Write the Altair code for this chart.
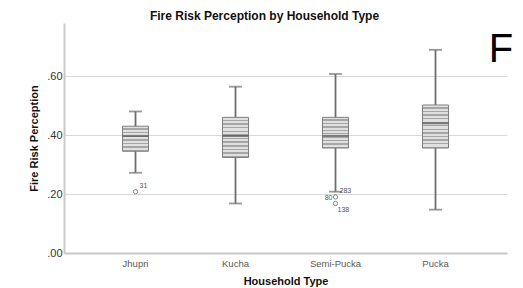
import altair as alt
import pandas as pd

categories = ["Jhupri", "Kucha", "Semi-Pucka", "Pucka"]
lower = [0.272, 0.168, 0.208, 0.147]
q1 = [0.345, 0.324, 0.356, 0.356]
median = [0.397, 0.397, 0.397, 0.440]
q3 = [0.430, 0.460, 0.460, 0.502]
upper = [0.480, 0.564, 0.607, 0.689]

outlier_cat = ["Jhupri", "Semi-Pucka", "Semi-Pucka"]
outlier_val = [0.208, 0.190, 0.168]

# outlier case labels (grouped by placement)
lab_ur_text = ["31", "283"]
lab_ur_cat = ["Jhupri", "Semi-Pucka"]
lab_ur_val = [0.208, 0.190]
lab_l_text = ["80"]
lab_l_cat = ["Semi-Pucka"]
lab_l_val = [0.190]
lab_b_text = ["138"]
lab_b_cat = ["Semi-Pucka"]
lab_b_val = [0.168]

FONT = "Liberation Sans"

df = pd.DataFrame(dict(cat=categories, lower=lower, q1=q1, median=median, q3=q3, upper=upper))
out_df = pd.DataFrame(dict(cat=outlier_cat, val=outlier_val))
ur_df = pd.DataFrame(dict(cat=lab_ur_cat, val=lab_ur_val, t=lab_ur_text))
l_df = pd.DataFrame(dict(cat=lab_l_cat, val=lab_l_val, t=lab_l_text))
b_df = pd.DataFrame(dict(cat=lab_b_cat, val=lab_b_val, t=lab_b_text))

xenc = alt.X(
    "cat:N", sort=categories,
    scale=alt.Scale(type="band", paddingInner=0, paddingOuter=0.215),
    axis=alt.Axis(title="Household Type", labelAngle=0, ticks=False, grid=False,
                  domainColor="#c8c8c8", domainWidth=2, labelColor="#5a5a5a",
                  labelFontSize=9.5, labelPadding=5, titleFontSize=11,
                  titleFontWeight="bold", titlePadding=8, titleColor="#111"),
)
yscale = alt.Scale(domain=[0, 0.78], nice=False, zero=True)
yaxis = alt.Axis(title="Fire Risk Perception", values=[0, 0.2, 0.4, 0.6],
                 labelExpr="replace(format(datum.value, '.2f'), '0.', '.')",
                 ticks=False, domainColor="#c8c8c8", domainWidth=2,
                 gridColor="#d9d9d9", gridWidth=1, labelFontSize=11,
                 labelColor="#333", labelPadding=2, titleFontSize=11,
                 titleFontWeight="bold", titlePadding=7, titleColor="#111")

base = alt.Chart(df)

whisk = base.mark_rule(color="#6e6e6e", strokeWidth=1.8).encode(
    x=xenc, y=alt.Y("lower:Q", scale=yscale, axis=yaxis), y2="upper:Q")
cap_lo = base.mark_tick(color="#6e6e6e", size=13, thickness=1.8).encode(
    x=xenc, y=alt.Y("lower:Q", scale=yscale, axis=yaxis))
cap_hi = base.mark_tick(color="#6e6e6e", size=13, thickness=1.8).encode(
    x=xenc, y=alt.Y("upper:Q", scale=yscale, axis=yaxis))


def stripes(n):
    stops = []
    for i in range(n):
        a = i / n
        m = a + 0.62 / n
        b = (i + 1) / n
        stops += [
            {"offset": a, "color": "#e0e0e0"},
            {"offset": m, "color": "#e0e0e0"},
            {"offset": m, "color": "#a6a6a6"},
            {"offset": b, "color": "#a6a6a6"},
        ]
    return {"gradient": "linear", "x1": 0, "y1": 0, "x2": 0, "y2": 1, "stops": stops}


boxes = []
for c, a, b in zip(categories, q1, q3):
    n = max(4, round((b - a) * 295 / 3.5))
    boxes.append(
        base.transform_filter(alt.datum.cat == c).mark_bar(
            size=26, fill=stripes(n), stroke="#7f7f7f", strokeWidth=1
        ).encode(x=xenc, y=alt.Y("q1:Q", scale=yscale, axis=yaxis), y2="q3:Q")
    )

med = base.mark_tick(color="#505050", size=26, thickness=2).encode(
    x=xenc, y=alt.Y("median:Q", scale=yscale, axis=yaxis))

outs = alt.Chart(out_df).mark_point(shape="circle", filled=False, size=18,
                                     color="#555", strokeWidth=1).encode(
    x=xenc, y=alt.Y("val:Q", scale=yscale, axis=yaxis))

txt_ur = alt.Chart(ur_df).mark_text(fontSize=7, color="#555", align="left",
                                    dx=4, dy=-6, font=FONT).encode(
    x=xenc, y=alt.Y("val:Q", scale=yscale, axis=yaxis), text="t:N")
txt_l = alt.Chart(l_df).mark_text(fontSize=7, color="#555", align="right",
                                  dx=-3, dy=1, font=FONT).encode(
    x=xenc, y=alt.Y("val:Q", scale=yscale, axis=yaxis), text="t:N")
txt_b = alt.Chart(b_df).mark_text(fontSize=7, color="#555", align="left",
                                  dx=2, dy=7, font=FONT).encode(
    x=xenc, y=alt.Y("val:Q", scale=yscale, axis=yaxis), text="t:N")

panel = alt.Chart(alt.Data(values=[{"t": "F"}])).mark_text(
    fontSize=40, color="#000", align="center", baseline="alphabetic", font=FONT
).encode(x=alt.value(437), y=alt.value(39), text="t:N")

chart = alt.layer(whisk, cap_lo, cap_hi, *boxes, med, outs, txt_ur, txt_l, txt_b, panel).properties(
    width=443, height=230, autosize="none",
    padding={"left": 56, "top": 15, "right": 8, "bottom": 35},
    title=alt.TitleParams("Fire Risk Perception by Household Type", fontSize=12,
                          fontWeight="bold", dx=-21, offset=0, font=FONT, color="#111"),
).configure(font=FONT).configure_view(stroke=None)

chart.save("out.html", embed_options={"renderer": "svg", "actions": False})
